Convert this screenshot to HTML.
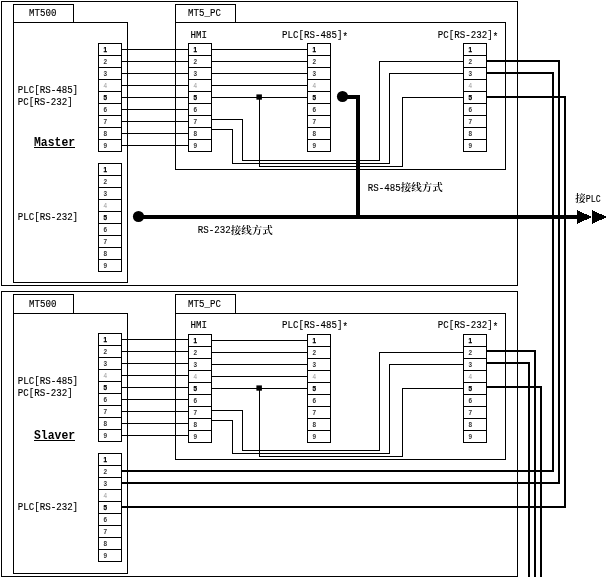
<!DOCTYPE html>
<html lang="zh"><head><meta charset="utf-8"><title>MT500 / MT5_PC wiring</title>
<style>
html,body{margin:0;padding:0;background:#fff}
svg{display:block;filter:grayscale(1)}
rect,path,circle{shape-rendering:crispEdges;fill:#000}
circle{shape-rendering:auto}
text{fill:#000;white-space:pre}
.aa{shape-rendering:auto}
.t{font-family:"Liberation Mono","Noto Serif CJK SC",monospace;font-size:11.0px;stroke:#000;stroke-width:0.15px}
.c{font-family:"Noto Serif CJK SC","Noto Sans CJK SC",serif;font-size:10px;font-weight:600;stroke:none}
.m{font-family:"Liberation Mono",monospace;font-size:13.6px;font-weight:bold}
.p{font-family:"Liberation Sans",sans-serif;font-size:6.4px;font-weight:bold;fill:#333;text-anchor:middle}
.p.b{fill:#000;stroke:#000;stroke-width:0.25px}
.p.g{fill:#999;font-weight:normal}
</style></head>
<body>
<svg width="607" height="577" viewBox="0 0 607 577">
<rect x="0" y="0" width="607" height="577" fill="#fff" style="fill:#fff"/>
<rect x="1" y="1" width="517" height="1"/>
<rect x="1" y="285" width="517" height="1"/>
<rect x="1" y="1" width="1" height="285"/>
<rect x="517" y="1" width="1" height="285"/>
<rect x="13" y="4" width="61" height="1"/>
<rect x="13" y="22" width="61" height="1"/>
<rect x="13" y="4" width="1" height="19"/>
<rect x="73" y="4" width="1" height="19"/>
<rect x="13" y="22" width="115" height="1"/>
<rect x="13" y="282" width="115" height="1"/>
<rect x="13" y="22" width="1" height="261"/>
<rect x="127" y="22" width="1" height="261"/>
<rect x="175" y="4" width="61" height="1"/>
<rect x="175" y="22" width="61" height="1"/>
<rect x="175" y="4" width="1" height="19"/>
<rect x="235" y="4" width="1" height="19"/>
<rect x="175" y="22" width="331" height="1"/>
<rect x="175" y="169" width="331" height="1"/>
<rect x="175" y="22" width="1" height="148"/>
<rect x="505" y="22" width="1" height="148"/>
<rect x="98" y="43" width="24" height="1"/>
<rect x="98" y="151" width="24" height="1"/>
<rect x="98" y="43" width="1" height="109"/>
<rect x="121" y="43" width="1" height="109"/>
<rect x="98" y="55" width="24" height="1"/>
<rect x="98" y="67" width="24" height="1"/>
<rect x="98" y="79" width="24" height="1"/>
<rect x="98" y="91" width="24" height="1"/>
<rect x="98" y="103" width="24" height="1"/>
<rect x="98" y="115" width="24" height="1"/>
<rect x="98" y="127" width="24" height="1"/>
<rect x="98" y="139" width="24" height="1"/>
<text class="p b" x="105.2" y="51.7">1</text>
<text class="p" x="105.2" y="63.7">2</text>
<text class="p" x="105.2" y="75.7">3</text>
<text class="p g" x="105.2" y="87.7">4</text>
<text class="p b" x="105.2" y="99.7">5</text>
<text class="p" x="105.2" y="111.7">6</text>
<text class="p" x="105.2" y="123.7">7</text>
<text class="p" x="105.2" y="135.7">8</text>
<text class="p" x="105.2" y="147.7">9</text>
<rect x="98" y="163" width="24" height="1"/>
<rect x="98" y="271" width="24" height="1"/>
<rect x="98" y="163" width="1" height="109"/>
<rect x="121" y="163" width="1" height="109"/>
<rect x="98" y="175" width="24" height="1"/>
<rect x="98" y="187" width="24" height="1"/>
<rect x="98" y="199" width="24" height="1"/>
<rect x="98" y="211" width="24" height="1"/>
<rect x="98" y="223" width="24" height="1"/>
<rect x="98" y="235" width="24" height="1"/>
<rect x="98" y="247" width="24" height="1"/>
<rect x="98" y="259" width="24" height="1"/>
<text class="p b" x="105.2" y="171.7">1</text>
<text class="p" x="105.2" y="183.7">2</text>
<text class="p" x="105.2" y="195.7">3</text>
<text class="p g" x="105.2" y="207.7">4</text>
<text class="p b" x="105.2" y="219.7">5</text>
<text class="p" x="105.2" y="231.7">6</text>
<text class="p" x="105.2" y="243.7">7</text>
<text class="p" x="105.2" y="255.7">8</text>
<text class="p" x="105.2" y="267.7">9</text>
<rect x="188" y="43" width="24" height="1"/>
<rect x="188" y="151" width="24" height="1"/>
<rect x="188" y="43" width="1" height="109"/>
<rect x="211" y="43" width="1" height="109"/>
<rect x="188" y="55" width="24" height="1"/>
<rect x="188" y="67" width="24" height="1"/>
<rect x="188" y="79" width="24" height="1"/>
<rect x="188" y="91" width="24" height="1"/>
<rect x="188" y="103" width="24" height="1"/>
<rect x="188" y="115" width="24" height="1"/>
<rect x="188" y="127" width="24" height="1"/>
<rect x="188" y="139" width="24" height="1"/>
<text class="p b" x="195.2" y="51.7">1</text>
<text class="p" x="195.2" y="63.7">2</text>
<text class="p" x="195.2" y="75.7">3</text>
<text class="p g" x="195.2" y="87.7">4</text>
<text class="p b" x="195.2" y="99.7">5</text>
<text class="p" x="195.2" y="111.7">6</text>
<text class="p" x="195.2" y="123.7">7</text>
<text class="p" x="195.2" y="135.7">8</text>
<text class="p" x="195.2" y="147.7">9</text>
<rect x="307" y="43" width="24" height="1"/>
<rect x="307" y="151" width="24" height="1"/>
<rect x="307" y="43" width="1" height="109"/>
<rect x="330" y="43" width="1" height="109"/>
<rect x="307" y="55" width="24" height="1"/>
<rect x="307" y="67" width="24" height="1"/>
<rect x="307" y="79" width="24" height="1"/>
<rect x="307" y="91" width="24" height="1"/>
<rect x="307" y="103" width="24" height="1"/>
<rect x="307" y="115" width="24" height="1"/>
<rect x="307" y="127" width="24" height="1"/>
<rect x="307" y="139" width="24" height="1"/>
<text class="p b" x="314.2" y="51.7">1</text>
<text class="p" x="314.2" y="63.7">2</text>
<text class="p" x="314.2" y="75.7">3</text>
<text class="p g" x="314.2" y="87.7">4</text>
<text class="p b" x="314.2" y="99.7">5</text>
<text class="p" x="314.2" y="111.7">6</text>
<text class="p" x="314.2" y="123.7">7</text>
<text class="p" x="314.2" y="135.7">8</text>
<text class="p" x="314.2" y="147.7">9</text>
<rect x="463" y="43" width="24" height="1"/>
<rect x="463" y="151" width="24" height="1"/>
<rect x="463" y="43" width="1" height="109"/>
<rect x="486" y="43" width="1" height="109"/>
<rect x="463" y="55" width="24" height="1"/>
<rect x="463" y="67" width="24" height="1"/>
<rect x="463" y="79" width="24" height="1"/>
<rect x="463" y="91" width="24" height="1"/>
<rect x="463" y="103" width="24" height="1"/>
<rect x="463" y="115" width="24" height="1"/>
<rect x="463" y="127" width="24" height="1"/>
<rect x="463" y="139" width="24" height="1"/>
<text class="p b" x="470.2" y="51.7">1</text>
<text class="p" x="470.2" y="63.7">2</text>
<text class="p" x="470.2" y="75.7">3</text>
<text class="p g" x="470.2" y="87.7">4</text>
<text class="p b" x="470.2" y="99.7">5</text>
<text class="p" x="470.2" y="111.7">6</text>
<text class="p" x="470.2" y="123.7">7</text>
<text class="p" x="470.2" y="135.7">8</text>
<text class="p" x="470.2" y="147.7">9</text>
<rect x="122" y="49" width="66" height="1"/>
<rect x="122" y="61" width="66" height="1"/>
<rect x="122" y="73" width="66" height="1"/>
<rect x="122" y="85" width="66" height="1"/>
<rect x="122" y="97" width="66" height="1"/>
<rect x="122" y="109" width="66" height="1"/>
<rect x="122" y="121" width="66" height="1"/>
<rect x="122" y="133" width="66" height="1"/>
<rect x="122" y="145" width="66" height="1"/>
<rect x="212" y="49" width="95" height="1"/>
<rect x="212" y="61" width="95" height="1"/>
<rect x="212" y="73" width="95" height="1"/>
<rect x="212" y="85" width="95" height="1"/>
<rect x="212" y="97" width="95" height="1"/>
<rect x="212" y="119" width="31" height="1"/>
<rect x="242" y="119" width="1" height="42"/>
<rect x="242" y="160" width="138" height="1"/>
<rect x="379" y="61" width="1" height="100"/>
<rect x="379" y="61" width="84" height="1"/>
<rect x="212" y="129" width="21" height="1"/>
<rect x="232" y="129" width="1" height="35"/>
<rect x="232" y="163" width="158" height="1"/>
<rect x="389" y="73" width="1" height="91"/>
<rect x="389" y="73" width="74" height="1"/>
<rect x="259" y="97" width="1" height="70"/>
<rect x="259" y="166" width="144" height="1"/>
<rect x="402" y="97" width="1" height="70"/>
<rect x="402" y="97" width="61" height="1"/>
<rect class="aa" x="256.4" y="94.4" width="5.5" height="5.3"/>
<rect x="1" y="291" width="517" height="1"/>
<rect x="1" y="576" width="517" height="1"/>
<rect x="1" y="291" width="1" height="286"/>
<rect x="517" y="291" width="1" height="286"/>
<rect x="13" y="294" width="61" height="1"/>
<rect x="13" y="313" width="61" height="1"/>
<rect x="13" y="294" width="1" height="20"/>
<rect x="73" y="294" width="1" height="20"/>
<rect x="13" y="313" width="115" height="1"/>
<rect x="13" y="573" width="115" height="1"/>
<rect x="13" y="313" width="1" height="261"/>
<rect x="127" y="313" width="1" height="261"/>
<rect x="175" y="294" width="61" height="1"/>
<rect x="175" y="313" width="61" height="1"/>
<rect x="175" y="294" width="1" height="20"/>
<rect x="235" y="294" width="1" height="20"/>
<rect x="175" y="313" width="331" height="1"/>
<rect x="175" y="459" width="331" height="1"/>
<rect x="175" y="313" width="1" height="147"/>
<rect x="505" y="313" width="1" height="147"/>
<rect x="98" y="333" width="24" height="1"/>
<rect x="98" y="441" width="24" height="1"/>
<rect x="98" y="333" width="1" height="109"/>
<rect x="121" y="333" width="1" height="109"/>
<rect x="98" y="345" width="24" height="1"/>
<rect x="98" y="357" width="24" height="1"/>
<rect x="98" y="369" width="24" height="1"/>
<rect x="98" y="381" width="24" height="1"/>
<rect x="98" y="393" width="24" height="1"/>
<rect x="98" y="405" width="24" height="1"/>
<rect x="98" y="417" width="24" height="1"/>
<rect x="98" y="429" width="24" height="1"/>
<text class="p b" x="105.2" y="341.7">1</text>
<text class="p" x="105.2" y="353.7">2</text>
<text class="p" x="105.2" y="365.7">3</text>
<text class="p g" x="105.2" y="377.7">4</text>
<text class="p b" x="105.2" y="389.7">5</text>
<text class="p" x="105.2" y="401.7">6</text>
<text class="p" x="105.2" y="413.7">7</text>
<text class="p" x="105.2" y="425.7">8</text>
<text class="p" x="105.2" y="437.7">9</text>
<rect x="98" y="453" width="24" height="1"/>
<rect x="98" y="561" width="24" height="1"/>
<rect x="98" y="453" width="1" height="109"/>
<rect x="121" y="453" width="1" height="109"/>
<rect x="98" y="465" width="24" height="1"/>
<rect x="98" y="477" width="24" height="1"/>
<rect x="98" y="489" width="24" height="1"/>
<rect x="98" y="501" width="24" height="1"/>
<rect x="98" y="513" width="24" height="1"/>
<rect x="98" y="525" width="24" height="1"/>
<rect x="98" y="537" width="24" height="1"/>
<rect x="98" y="549" width="24" height="1"/>
<text class="p b" x="105.2" y="461.7">1</text>
<text class="p" x="105.2" y="473.7">2</text>
<text class="p" x="105.2" y="485.7">3</text>
<text class="p g" x="105.2" y="497.7">4</text>
<text class="p b" x="105.2" y="509.7">5</text>
<text class="p" x="105.2" y="521.7">6</text>
<text class="p" x="105.2" y="533.7">7</text>
<text class="p" x="105.2" y="545.7">8</text>
<text class="p" x="105.2" y="557.7">9</text>
<rect x="188" y="334" width="24" height="1"/>
<rect x="188" y="442" width="24" height="1"/>
<rect x="188" y="334" width="1" height="109"/>
<rect x="211" y="334" width="1" height="109"/>
<rect x="188" y="346" width="24" height="1"/>
<rect x="188" y="358" width="24" height="1"/>
<rect x="188" y="370" width="24" height="1"/>
<rect x="188" y="382" width="24" height="1"/>
<rect x="188" y="394" width="24" height="1"/>
<rect x="188" y="406" width="24" height="1"/>
<rect x="188" y="418" width="24" height="1"/>
<rect x="188" y="430" width="24" height="1"/>
<text class="p b" x="195.2" y="342.7">1</text>
<text class="p" x="195.2" y="354.7">2</text>
<text class="p" x="195.2" y="366.7">3</text>
<text class="p g" x="195.2" y="378.7">4</text>
<text class="p b" x="195.2" y="390.7">5</text>
<text class="p" x="195.2" y="402.7">6</text>
<text class="p" x="195.2" y="414.7">7</text>
<text class="p" x="195.2" y="426.7">8</text>
<text class="p" x="195.2" y="438.7">9</text>
<rect x="307" y="334" width="24" height="1"/>
<rect x="307" y="442" width="24" height="1"/>
<rect x="307" y="334" width="1" height="109"/>
<rect x="330" y="334" width="1" height="109"/>
<rect x="307" y="346" width="24" height="1"/>
<rect x="307" y="358" width="24" height="1"/>
<rect x="307" y="370" width="24" height="1"/>
<rect x="307" y="382" width="24" height="1"/>
<rect x="307" y="394" width="24" height="1"/>
<rect x="307" y="406" width="24" height="1"/>
<rect x="307" y="418" width="24" height="1"/>
<rect x="307" y="430" width="24" height="1"/>
<text class="p b" x="314.2" y="342.7">1</text>
<text class="p" x="314.2" y="354.7">2</text>
<text class="p" x="314.2" y="366.7">3</text>
<text class="p g" x="314.2" y="378.7">4</text>
<text class="p b" x="314.2" y="390.7">5</text>
<text class="p" x="314.2" y="402.7">6</text>
<text class="p" x="314.2" y="414.7">7</text>
<text class="p" x="314.2" y="426.7">8</text>
<text class="p" x="314.2" y="438.7">9</text>
<rect x="463" y="334" width="24" height="1"/>
<rect x="463" y="442" width="24" height="1"/>
<rect x="463" y="334" width="1" height="109"/>
<rect x="486" y="334" width="1" height="109"/>
<rect x="463" y="346" width="24" height="1"/>
<rect x="463" y="358" width="24" height="1"/>
<rect x="463" y="370" width="24" height="1"/>
<rect x="463" y="382" width="24" height="1"/>
<rect x="463" y="394" width="24" height="1"/>
<rect x="463" y="406" width="24" height="1"/>
<rect x="463" y="418" width="24" height="1"/>
<rect x="463" y="430" width="24" height="1"/>
<text class="p b" x="470.2" y="342.7">1</text>
<text class="p" x="470.2" y="354.7">2</text>
<text class="p" x="470.2" y="366.7">3</text>
<text class="p g" x="470.2" y="378.7">4</text>
<text class="p b" x="470.2" y="390.7">5</text>
<text class="p" x="470.2" y="402.7">6</text>
<text class="p" x="470.2" y="414.7">7</text>
<text class="p" x="470.2" y="426.7">8</text>
<text class="p" x="470.2" y="438.7">9</text>
<rect x="122" y="339" width="66" height="1"/>
<rect x="122" y="351" width="66" height="1"/>
<rect x="122" y="363" width="66" height="1"/>
<rect x="122" y="375" width="66" height="1"/>
<rect x="122" y="387" width="66" height="1"/>
<rect x="122" y="399" width="66" height="1"/>
<rect x="122" y="411" width="66" height="1"/>
<rect x="122" y="423" width="66" height="1"/>
<rect x="122" y="435" width="66" height="1"/>
<rect x="212" y="340" width="95" height="1"/>
<rect x="212" y="352" width="95" height="1"/>
<rect x="212" y="364" width="95" height="1"/>
<rect x="212" y="376" width="95" height="1"/>
<rect x="212" y="388" width="95" height="1"/>
<rect x="212" y="410" width="31" height="1"/>
<rect x="242" y="410" width="1" height="41"/>
<rect x="242" y="450" width="138" height="1"/>
<rect x="379" y="352" width="1" height="99"/>
<rect x="379" y="352" width="84" height="1"/>
<rect x="212" y="420" width="21" height="1"/>
<rect x="232" y="420" width="1" height="34"/>
<rect x="232" y="453" width="158" height="1"/>
<rect x="389" y="364" width="1" height="90"/>
<rect x="389" y="364" width="74" height="1"/>
<rect x="259" y="388" width="1" height="69"/>
<rect x="259" y="456" width="144" height="1"/>
<rect x="402" y="388" width="1" height="69"/>
<rect x="402" y="388" width="61" height="1"/>
<rect class="aa" x="256.4" y="385.4" width="5.5" height="5.3"/>
<circle cx="342.5" cy="96.5" r="5.6"/>
<rect x="342" y="95" width="18" height="4"/>
<rect x="356" y="95" width="4" height="124"/>
<circle cx="138.5" cy="216.5" r="5.6"/>
<rect x="138" y="215" width="440" height="4"/>
<path d="M577 210L592 217L577 224ZM592 210L607 217L592 224Z"/>
<rect x="487" y="60" width="73" height="2"/>
<rect x="558" y="60" width="2" height="424"/>
<rect x="487" y="72" width="67" height="2"/>
<rect x="552" y="72" width="2" height="400"/>
<rect x="487" y="96" width="79" height="2"/>
<rect x="564" y="96" width="2" height="412"/>
<rect x="122" y="470" width="432" height="2"/>
<rect x="122" y="482" width="438" height="2"/>
<rect x="122" y="506" width="444" height="2"/>
<rect x="487" y="350" width="49" height="2"/>
<rect x="534" y="350" width="2" height="227"/>
<rect x="487" y="362" width="43" height="2"/>
<rect x="528" y="362" width="2" height="215"/>
<rect x="487" y="386" width="55" height="2"/>
<rect x="540" y="386" width="2" height="191"/>
<text class="t" transform="translate(29 15.8) scale(0.8333 1)">MT500</text>
<text class="t" transform="translate(188 15.8) scale(0.8333 1)">MT5_PC</text>
<text class="t" transform="translate(190.5 37.8) scale(0.8333 1)">HMI</text>
<text class="t" transform="translate(282 37.8) scale(0.8333 1)">PLC[RS-485]<tspan dy="1.8">*</tspan></text>
<text class="t" transform="translate(437.7 37.8) scale(0.8333 1)">PC[RS-232]<tspan dy="1.8">*</tspan></text>
<text class="t" transform="translate(17.7 92.8) scale(0.8333 1)">PLC[RS-485]</text>
<text class="t" transform="translate(17.7 105.4) scale(0.8333 1)">PC[RS-232]</text>
<text class="t" transform="translate(17.7 220) scale(0.8333 1)">PLC[RS-232]</text>
<text class="t" transform="translate(29 306.8) scale(0.8333 1)">MT500</text>
<text class="t" transform="translate(188 306.8) scale(0.8333 1)">MT5_PC</text>
<text class="t" transform="translate(190.5 327.8) scale(0.8333 1)">HMI</text>
<text class="t" transform="translate(282 327.8) scale(0.8333 1)">PLC[RS-485]<tspan dy="1.8">*</tspan></text>
<text class="t" transform="translate(437.7 327.8) scale(0.8333 1)">PC[RS-232]<tspan dy="1.8">*</tspan></text>
<text class="t" transform="translate(17.7 383.8) scale(0.8333 1)">PLC[RS-485]</text>
<text class="t" transform="translate(17.7 396.4) scale(0.8333 1)">PC[RS-232]</text>
<text class="t" transform="translate(17.7 510) scale(0.8333 1)">PLC[RS-232]</text>
<text class="m" transform="translate(34 145.7) scale(0.8395 1)">Master</text>
<text class="m" transform="translate(34 438.7) scale(0.8395 1)">Slaver</text>
<rect x="34" y="147" width="41" height="1"/>
<rect x="34" y="440" width="41" height="1"/>
<text class="t" x="197.7" y="233.1"><tspan textLength="33" lengthAdjust="spacingAndGlyphs">RS-232</tspan><tspan class="c" dy="0.4" textLength="42.2" lengthAdjust="spacingAndGlyphs">接线方式</tspan></text>
<text class="t" x="367.7" y="190.5"><tspan textLength="33" lengthAdjust="spacingAndGlyphs">RS-485</tspan><tspan class="c" dy="0.4" textLength="42.2" lengthAdjust="spacingAndGlyphs">接线方式</tspan></text>
<text class="t" x="575.3" y="202.0"><tspan class="c" dy="0" textLength="10.5" lengthAdjust="spacingAndGlyphs">接</tspan><tspan dy="-0.4" textLength="15" lengthAdjust="spacingAndGlyphs">PLC</tspan></text>
</svg>
</body></html>
